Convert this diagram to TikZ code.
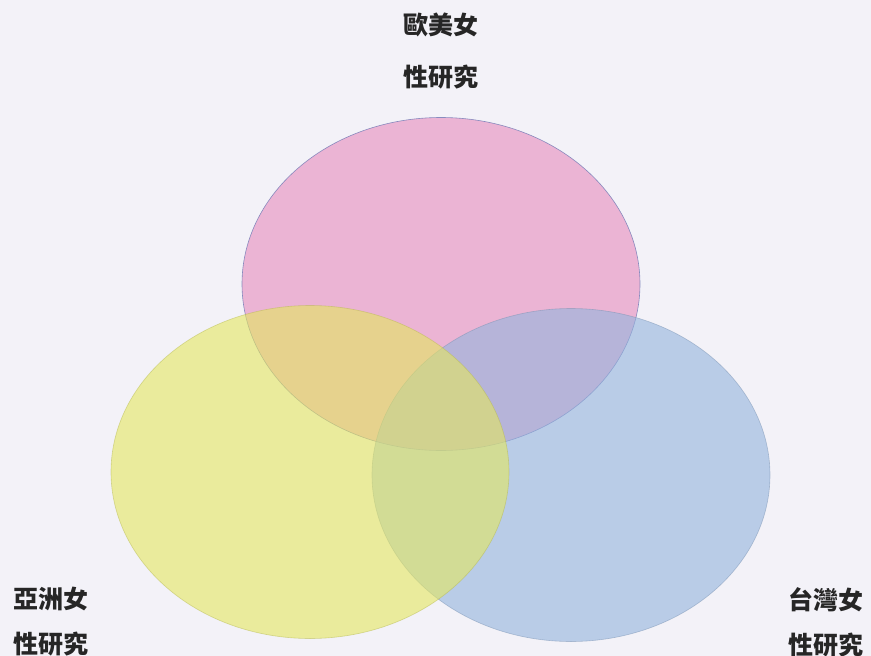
\documentclass[tikz,border=0pt]{standalone}
\usepackage{fontspec}
\newfontfamily\cjk{Noto Sans CJK TC}
\usetikzlibrary{shapes.geometric}
\definecolor{paper}{RGB}{243,242,248}
\definecolor{pinkset}{RGB}{231,139,188}
\definecolor{yellowset}{RGB}{228,231,95}
\definecolor{blueset}{RGB}{147,180,221}
\definecolor{pinkrim}{RGB}{110,120,180}
\tikzset{
  setbubble/.style={ellipse,inner sep=0pt,minimum width=398pt,minimum height=333pt,
    fill opacity=0.6,line width=0.6pt},
  settext/.style={font=\cjk\bfseries\fontsize{25}{45}\selectfont,align=center,text=black!85}
}
\begin{document}
\begin{tikzpicture}[x=1pt,y=-1pt]
\useasboundingbox (0,0) rectangle (871,656);
\fill[paper] (0,0) rectangle (871,656);
% the three circles
\node[setbubble,fill=pinkset,draw=pinkrim,draw opacity=0.8] (west) at (441,284) {};
\node[setbubble,fill=blueset,draw=blueset!80!black,draw opacity=0.5] (taiwan) at (571,475) {};
\node[setbubble,fill=yellowset,draw=yellowset!80!black,draw opacity=0.5] (asia) at (310,472) {};
% labels
\node[settext] (westtext) at (441,51) {歐美女\\[7pt]性研究};
\node[settext] (asiatext) at (51,622) {亞洲女\\性研究};
\node[settext] (taiwantext) at (826,622) {台灣女\\性研究};
\end{tikzpicture}
\end{document}
